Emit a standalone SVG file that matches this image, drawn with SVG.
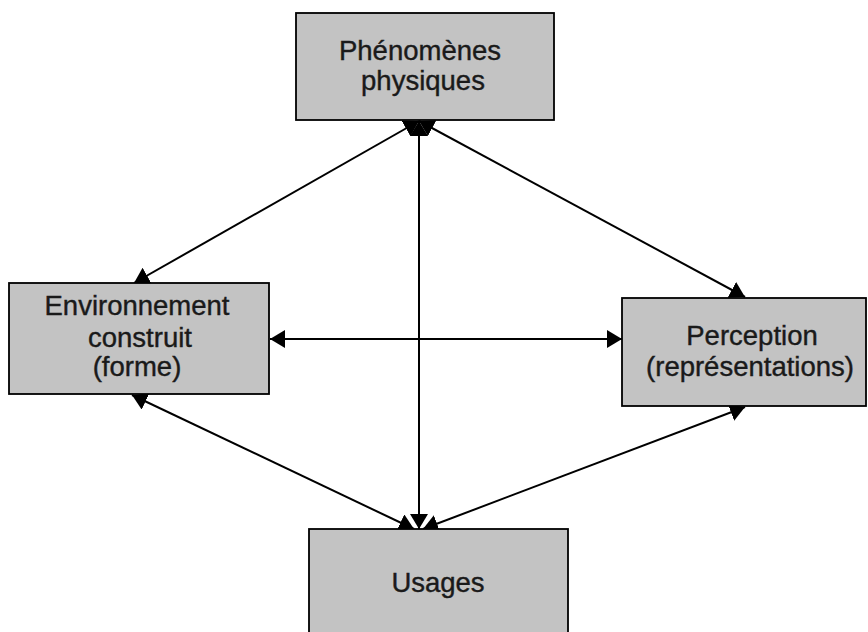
<svg xmlns="http://www.w3.org/2000/svg" width="868" height="632" viewBox="0 0 868 632">
<style>
.box{fill:#c3c3c3;stroke:#000;stroke-width:1.8}
.lbl{font-family:"Liberation Sans",Arial,sans-serif;font-size:27.5px;fill:#1a1a1a;stroke:#1a1a1a;stroke-width:0.4;text-anchor:middle}
.conn{stroke:#000;stroke-width:2;fill:none;marker-start:url(#ah);marker-end:url(#ah)}
</style>
<defs>
<marker id="ah" markerUnits="userSpaceOnUse" markerWidth="16" markerHeight="18" refX="15" refY="9" orient="auto-start-reverse">
<path d="M0,0 L15,9 L0,18 Z" fill="#000"/>
</marker>
</defs>
<rect width="868" height="632" fill="#fff"/>
<g id="connectors">
<line class="conn" x1="419" y1="121" x2="134" y2="283"/>
<line class="conn" x1="419" y1="121" x2="745" y2="297"/>
<line class="conn" x1="419" y1="121" x2="419" y2="529"/>
<line class="conn" x1="270" y1="339" x2="622" y2="339"/>
<line class="conn" x1="132" y1="395" x2="414" y2="529"/>
<line class="conn" x1="745" y1="407" x2="423" y2="529"/>
</g>
<g id="phenomenes">
<rect class="box" x="296" y="13" width="258" height="107"/>
<text class="lbl" x="420" y="60">Phénomènes</text>
<text class="lbl" x="423" y="90">physiques</text>
</g>
<g id="environnement">
<rect class="box" x="9" y="283" width="260" height="111"/>
<text class="lbl" x="137" y="315">Environnement</text>
<text class="lbl" x="140" y="347">construit</text>
<text class="lbl" x="137" y="376">(forme)</text>
</g>
<g id="perception">
<rect class="box" x="622" y="298" width="244" height="108"/>
<text class="lbl" x="752" y="345">Perception</text>
<text class="lbl" x="750" y="376">(représentations)</text>
</g>
<g id="usages">
<rect class="box" x="309" y="529" width="259" height="115"/>
<text class="lbl" x="438" y="592">Usages</text>
</g>
</svg>
